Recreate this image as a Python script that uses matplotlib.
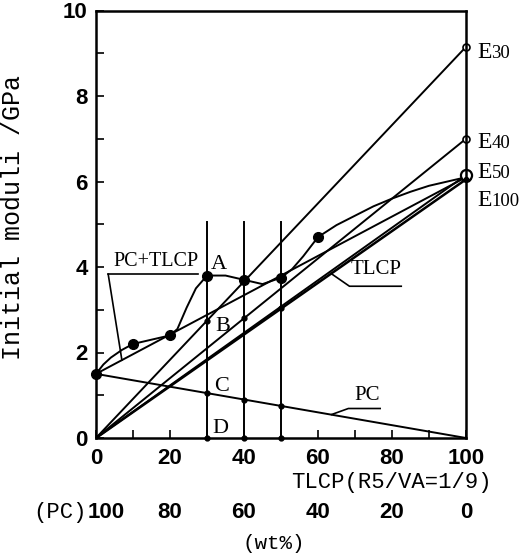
import matplotlib
matplotlib.use("Agg")
import matplotlib.pyplot as plt
from matplotlib import font_manager
from matplotlib.ticker import MultipleLocator

# measured composite moduli (filled dots) vs TLCP content
tlcp_pct = [0, 10, 20, 30, 40, 50, 60, 100]
composite = [1.5, 2.2, 2.4, 3.8, 3.7, 3.75, 4.7, 6.1]

# hand drawn PC+TLCP curve
curve_x = [0, 2, 4, 7, 10, 15, 20, 22, 24.5, 27, 30, 35, 40, 45, 50, 53, 56, 60,
           65, 70, 75, 80, 85, 90, 95, 100]
curve_y = [1.5, 1.72, 1.88, 2.06, 2.2, 2.3, 2.4, 2.55, 3.05, 3.5, 3.8, 3.8, 3.7,
           3.6, 3.75, 3.95, 4.25, 4.7, 4.98, 5.2, 5.42, 5.6, 5.76, 5.9, 6.0, 6.1]

# straight lines
pc_x, pc_y = [0, 100], [1.5, 0.0]
mix_x, mix_y = [0, 100], [1.5, 6.1]
tlcp_x, tlcp_y = [0, 100], [0.0, 6.05]
e_names = ["30", "40", "50", "100"]
e_values = [9.15, 7.0, 6.15, 6.05]
e_label_y = [9.07, 6.97, 6.27, 5.62]

# construction points on the verticals
vert_x = [30, 40, 50]
b_y = [2.73, 2.8, 3.05]
c_y = [1.05, 0.9, 0.75]

available = {f.name for f in font_manager.fontManager.ttflist}


def pick(*names):
    for n in names:
        if n in available:
            return n
    return "DejaVu Sans"


NUM_FONT = pick("Liberation Sans Narrow", "DejaVu Sans Condensed", "Liberation Sans")
TXT_FONT = pick("Liberation Mono", "DejaVu Sans Mono")
LBL_FONT = pick("DejaVu Serif Condensed", "Liberation Serif")

fig = plt.figure(figsize=(5.26, 5.55), dpi=100)
ax = fig.add_axes([96 / 526, 1 - 438 / 555, 370 / 526, 427.5 / 555])

lw = 1.4
k = "black"
ax.plot(curve_x, curve_y, color=k, lw=lw)
ax.plot(tlcp_pct, composite, "o", color=k, ms=7, clip_on=False)
ax.plot(pc_x, pc_y, color=k, lw=lw)
ax.plot(mix_x, mix_y, color=k, lw=lw)
ax.plot(tlcp_x, tlcp_y, color=k, lw=lw + 0.4)
for v in e_values[:3]:
    ax.plot([0, 100], [0, v], color=k, lw=lw)

for x in vert_x:
    ax.plot([x, x], [0, 5.05], color=k, lw=lw)
ax.plot(vert_x, b_y, "o", color=k, ms=3.5)
ax.plot(vert_x, c_y, "o", color=k, ms=3.5)
ax.plot(vert_x, [0, 0, 0], "o", color=k, ms=3.5, clip_on=False)

# end points on the right axis
ax.plot([100, 100], e_values[:2], "o", mfc="white", mec=k, ms=5, mew=1.2, clip_on=False)
ax.plot([100], [e_values[2]], "o", mfc="white", mec=k, ms=8, mew=1.6, clip_on=False)
ax.plot([100], [e_values[3]], "o", color=k, ms=3, clip_on=False)

for name, y in zip(e_names, e_label_y):
    ax.text(103, y - 0.19, "E", fontsize=17, family=LBL_FONT, va="baseline", clip_on=False)
    ax.text(106.9, y - 0.19, name, fontsize=13.5, family=LBL_FONT, va="baseline", clip_on=False)

# letters
for t, x, y in [("A", 33.3, 4.05), ("B", 34.3, 2.6), ("C", 34.0, 1.2), ("D", 33.6, 0.23)]:
    ax.text(x, y, t, fontsize=16, family=LBL_FONT, ha="center", va="center")

# PC+TLCP callout
ax.text(16.3, 4.12, "PC+TLCP", fontsize=14.5, family=LBL_FONT, ha="center", va="center")
ax.plot([3.3, 27.6], [3.83, 3.83], color=k, lw=1.2)
ax.plot([3.3, 7.0], [3.83, 1.82], color=k, lw=1.2)

# TLCP callout
ax.text(75.8, 3.93, "TLCP", fontsize=15, family=LBL_FONT, ha="center", va="center")
ax.plot([63.5, 68.5, 82.5], [3.85, 3.55, 3.55], color=k, lw=1.2)

# PC callout
ax.text(73.2, 1.0, "PC", fontsize=15, family=LBL_FONT, ha="center", va="center")
ax.plot([63.7, 68.2, 76.8], [0.55, 0.69, 0.69], color=k, lw=1.2)

ax.set_xlim(0, 100)
ax.set_ylim(0, 10)
ax.set_xticks([0, 20, 40, 60, 80, 100])
ax.xaxis.set_minor_locator(MultipleLocator(10))
ax.set_yticks([0, 2, 4, 6, 8, 10])
ax.yaxis.set_minor_locator(MultipleLocator(1))
ax.tick_params(which="both", direction="in", length=6, width=1.2)
ax.tick_params(axis="x", which="major", pad=7)
ax.tick_params(axis="y", which="major", pad=6)
for lab in ax.get_xticklabels() + ax.get_yticklabels():
    lab.set_fontfamily(NUM_FONT)
    lab.set_fontsize(16)
    lab.set_fontweight("bold")
for s in ax.spines.values():
    s.set_linewidth(1.8)

ax.set_ylabel("Initial moduli /GPa", fontsize=18, family=TXT_FONT)
ax.yaxis.set_label_coords(-0.192, 0.515)

xt = ax.get_xaxis_transform()
ax.text(107, -0.105, "TLCP(R5/VA=1/9)", transform=xt, fontsize=16, family=TXT_FONT,
        ha="right", va="center", clip_on=False)
pc_ticks = ["100", "80", "60", "40", "20", "0"]
for x, t in zip([0, 20, 40, 60, 80, 100], pc_ticks):
    if x == 0:
        ax.text(-2.2, -0.175, t, transform=xt, fontsize=16, family=NUM_FONT,
                fontweight="bold", ha="left", va="center")
    else:
        ax.text(x, -0.175, t, transform=xt, fontsize=16, family=NUM_FONT,
                fontweight="bold", ha="center", va="center")
ax.text(-2.4, -0.175, "(PC)", transform=xt, fontsize=16, family=TXT_FONT,
        ha="right", va="center")
ax.text(48, -0.246, "(wt%)", transform=xt, fontsize=15, family=TXT_FONT,
        ha="center", va="center")

fig.savefig("out.png", dpi=100)
